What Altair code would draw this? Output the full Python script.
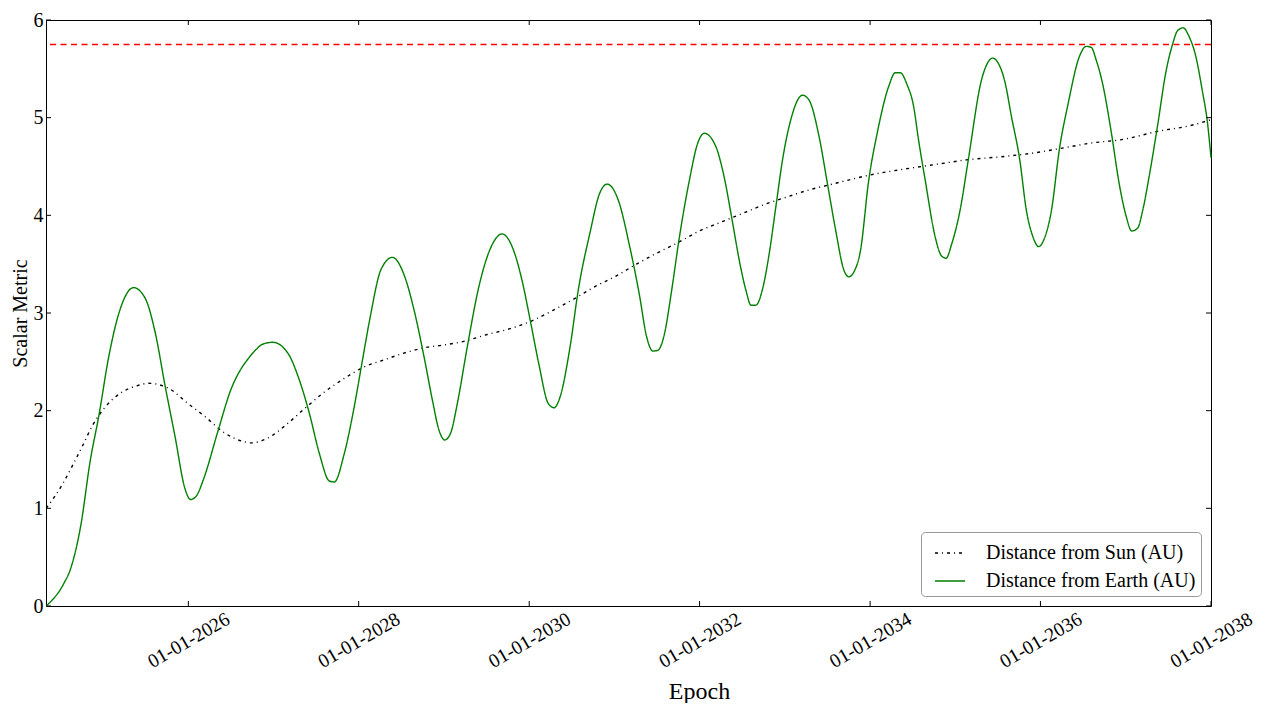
import altair as alt
import pandas as pd

# ---- data (decimal years, AU) ----
earth_years = [2024.333, 2024.539, 2024.618, 2024.735, 2024.851, 2024.948, 2025.065, 2025.182, 2025.357, 2025.494,
               2025.611, 2025.728, 2025.845, 2025.961, 2026.027, 2026.097, 2026.175, 2026.351, 2026.506, 2026.600,
               2026.701, 2026.800, 2026.870, 2026.993, 2027.168, 2027.305, 2027.422, 2027.539, 2027.656, 2027.714,
               2027.831, 2027.948, 2028.045, 2028.142, 2028.259, 2028.395, 2028.532, 2028.649, 2028.766, 2028.863,
               2028.941, 2029.007, 2029.077, 2029.155, 2029.272, 2029.409, 2029.544, 2029.681, 2029.817, 2029.914,
               2030.011, 2030.110, 2030.226, 2030.292, 2030.362, 2030.479, 2030.577, 2030.713, 2030.829, 2030.916,
               2031.044, 2031.180, 2031.297, 2031.375, 2031.453, 2031.512, 2031.589, 2031.667, 2031.764, 2031.881,
               2031.979, 2032.056, 2032.193, 2032.271, 2032.388, 2032.465, 2032.544, 2032.602, 2032.660, 2032.739,
               2032.816, 2032.894, 2032.972, 2033.069, 2033.206, 2033.283, 2033.400, 2033.498, 2033.595, 2033.692,
               2033.751, 2033.809, 2033.887, 2033.984, 2034.083, 2034.218, 2034.296, 2034.355, 2034.433, 2034.510,
               2034.569, 2034.647, 2034.764, 2034.834, 2034.892, 2034.959, 2035.056, 2035.153, 2035.309, 2035.386,
               2035.438, 2035.503, 2035.582, 2035.660, 2035.757, 2035.835, 2035.912, 2035.979, 2036.049, 2036.127,
               2036.224, 2036.321, 2036.458, 2036.536, 2036.595, 2036.653, 2036.730, 2036.828, 2036.925, 2037.004,
               2037.069, 2037.139, 2037.198, 2037.276, 2037.373, 2037.471, 2037.548, 2037.607, 2037.673, 2037.743,
               2037.821, 2037.899, 2037.957, 2038.000]
earth_vals = [0.00, 0.23, 0.38, 0.81, 1.50, 1.94, 2.55, 2.99, 3.26, 3.15,
              2.80, 2.25, 1.73, 1.20, 1.09, 1.13, 1.29, 1.80, 2.23, 2.40,
              2.53, 2.63, 2.68, 2.70, 2.59, 2.31, 1.97, 1.56, 1.28, 1.27,
              1.56, 2.04, 2.52, 2.99, 3.44, 3.57, 3.39, 3.03, 2.55, 2.11,
              1.80, 1.70, 1.77, 2.07, 2.65, 3.27, 3.66, 3.81, 3.64, 3.34,
              2.93, 2.49, 2.07, 2.03, 2.14, 2.65, 3.24, 3.82, 4.23, 4.32,
              4.16, 3.68, 3.17, 2.77, 2.61, 2.62, 2.79, 3.20, 3.78, 4.36,
              4.74, 4.84, 4.70, 4.46, 3.92, 3.54, 3.23, 3.08, 3.08, 3.25,
              3.61, 4.09, 4.57, 4.98, 5.23, 5.18, 4.81, 4.33, 3.85, 3.44,
              3.37, 3.42, 3.64, 4.36, 4.84, 5.32, 5.46, 5.46, 5.34, 5.12,
              4.77, 4.36, 3.78, 3.59, 3.56, 3.71, 4.05, 4.57, 5.39, 5.57,
              5.61, 5.56, 5.37, 5.01, 4.57, 4.05, 3.78, 3.68, 3.77, 4.04,
              4.69, 5.13, 5.63, 5.73, 5.72, 5.59, 5.34, 4.86, 4.31, 3.99,
              3.84, 3.87, 4.05, 4.41, 4.92, 5.47, 5.75, 5.89, 5.92, 5.83,
              5.63, 5.27, 4.96, 4.59]

sun_years = [2024.333, 2024.519, 2024.636, 2024.753, 2024.870, 2025.027, 2025.221, 2025.416, 2025.533, 2025.766,
             2026.000, 2026.195, 2026.429, 2026.663, 2026.740, 2026.935, 2027.168, 2027.364, 2027.597, 2027.831,
             2028.045, 2028.298, 2028.571, 2028.804, 2028.980, 2029.233, 2029.506, 2029.778, 2030.031, 2030.285,
             2030.537, 2030.771, 2031.024, 2031.258, 2031.492, 2031.745, 2031.998, 2032.251, 2032.505, 2032.757,
             2033.031, 2033.283, 2033.557, 2033.984, 2034.375, 2034.764, 2035.153, 2035.543, 2035.932, 2036.204,
             2036.595, 2036.984, 2037.373, 2037.763, 2038.000]
sun_vals = [1.00, 1.24, 1.43, 1.63, 1.84, 2.04, 2.19, 2.26, 2.28, 2.23,
            2.07, 1.94, 1.77, 1.68, 1.67, 1.72, 1.87, 2.02, 2.19, 2.33,
            2.44, 2.52, 2.60, 2.65, 2.67, 2.71, 2.78, 2.84, 2.92, 3.03,
            3.15, 3.27, 3.38, 3.50, 3.61, 3.72, 3.84, 3.93, 4.02, 4.11,
            4.19, 4.26, 4.32, 4.41, 4.47, 4.52, 4.57, 4.60, 4.64, 4.68,
            4.74, 4.78, 4.86, 4.92, 4.98]

threshold = [5.75]
tick_years = [2026, 2028, 2030, 2032, 2034, 2036, 2038]
y_ticks = [0, 1, 2, 3, 4, 5, 6]

SUN = "Distance from Sun (AU)"
EARTH = "Distance from Earth (AU)"
FONT = "Liberation Serif"
W, H = 1165, 586


def dec_to_iso(y):
    yr = int(y)
    frac = y - yr
    a = pd.Timestamp(year=yr, month=1, day=1)
    b = pd.Timestamp(year=yr + 1, month=1, day=1)
    return (a + (b - a) * frac).strftime("%Y-%m-%dT%H:%M:%S")


rows = [{"date": dec_to_iso(t), "value": v, "series": SUN} for t, v in zip(sun_years, sun_vals)]
rows += [{"date": dec_to_iso(t), "value": v, "series": EARTH} for t, v in zip(earth_years, earth_vals)]
df = pd.DataFrame(rows)

xticks_df = pd.DataFrame({"date": [f"{y}-01-01T00:00:00" for y in tick_years]})
yticks_df = pd.DataFrame({"value": y_ticks})
thr_df = pd.DataFrame({"value": threshold})

x_scale = alt.Scale(domain=[alt.DateTime(year=2024, month=5, date=1),
                            alt.DateTime(year=2038, month=1, date=1)], nice=False)
y_scale = alt.Scale(domain=[0, 6], nice=False)

x_axis = alt.Axis(values=[alt.DateTime(year=y, month=1, date=1) for y in tick_years],
                  format="%m-%d-%Y", labelAngle=-30, labelAlign="center", labelFontSize=19.5,
                  labelBaseline="middle", labelPadding=34, labelOverlap=False,
                  labelFlush=False, titleFontSize=24, titleX=653, titleY=92,
                  titleBaseline="alphabetic", titleAlign="center")
y_axis = alt.Axis(values=y_ticks, format="d", labelPadding=3, titleFontSize=20,
                  titleX=-20, titleY=293, titleAngle=-90, titleAlign="center",
                  titleBaseline="alphabetic")

lines = alt.Chart(df).mark_line(strokeWidth=1.4, interpolate="monotone").encode(
    x=alt.X("date:T", scale=x_scale, title="Epoch", axis=x_axis),
    y=alt.Y("value:Q", scale=y_scale, title="Scalar Metric", axis=y_axis),
    color=alt.Color("series:N", scale=alt.Scale(domain=[SUN, EARTH], range=["black", "#008000"]),
                    legend=alt.Legend(title=None)),
    strokeDash=alt.StrokeDash("series:N", scale=alt.Scale(domain=[SUN, EARTH], range=[[3, 4, 1, 4], [1, 0]]),
                              legend=alt.Legend(title=None)),
    order=alt.Order("date:T"),
)

thr = alt.Chart(thr_df).mark_rule(color="#ff0000", strokeWidth=1.5, strokeDash=[6, 4.5]).encode(
    y=alt.Y("value:Q", scale=y_scale, title="Scalar Metric")
)

xt_bottom = alt.Chart(xticks_df).mark_rule(color="black", strokeWidth=1).encode(
    x=alt.X("date:T", scale=x_scale, title="Epoch"), y=alt.value(H), y2=alt.value(H - 5))
xt_top = alt.Chart(xticks_df).mark_rule(color="black", strokeWidth=1).encode(
    x=alt.X("date:T", scale=x_scale, title="Epoch"), y=alt.value(0), y2=alt.value(5))
yt_left = alt.Chart(yticks_df).mark_rule(color="black", strokeWidth=1).encode(
    y=alt.Y("value:Q", scale=y_scale, title="Scalar Metric"), x=alt.value(0), x2=alt.value(5))
yt_right = alt.Chart(yticks_df).mark_rule(color="black", strokeWidth=1).encode(
    y=alt.Y("value:Q", scale=y_scale, title="Scalar Metric"), x=alt.value(W), x2=alt.value(W - 5))

chart = alt.layer(lines, thr, xt_bottom, xt_top, yt_left, yt_right).properties(
    width=W, height=H,
    autosize=alt.AutoSizeParams(type="none"),
    padding={"left": 38, "top": 12, "right": 46, "bottom": 97},
).configure_view(
    stroke="black", strokeWidth=1
).configure_axis(
    grid=False, ticks=False, domain=False,
    labelFont=FONT, labelFontSize=20, labelColor="black",
    titleFont=FONT, titleFontWeight="normal", titleColor="black",
).configure_legend(
    orient="bottom-right", offset=10, padding=5, symbolType="stroke", symbolSize=900,
    symbolStrokeWidth=1.5, symbolOffset=8, labelOffset=20, rowPadding=2,
    strokeColor="#999999", cornerRadius=4, fillColor="white",
    labelFont=FONT, labelFontSize=20, labelColor="black", labelLimit=400,
)

chart.save("out.html", embed_options={"renderer": "svg", "actions": False})
